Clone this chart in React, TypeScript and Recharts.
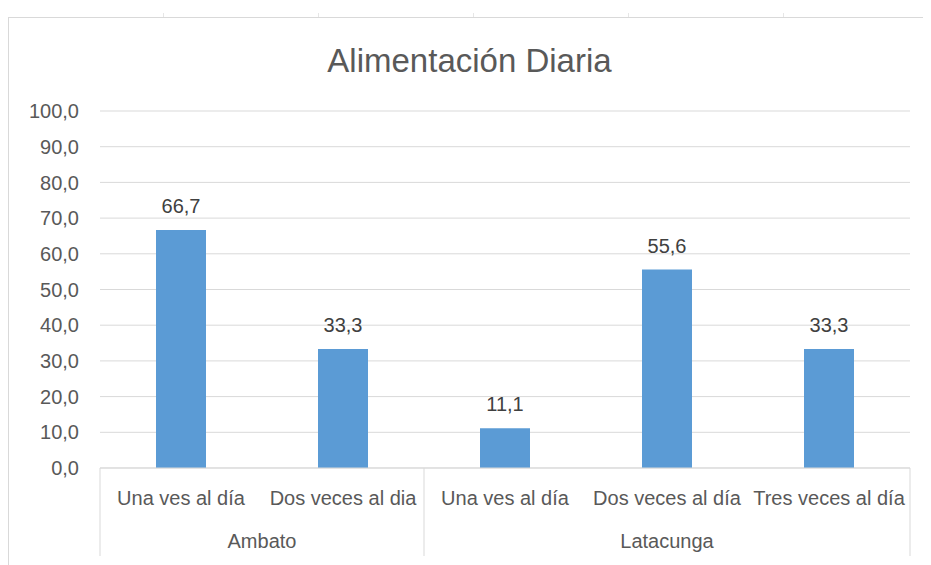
import { BarChart, Bar, XAxis, YAxis, CartesianGrid, LabelList } from "recharts";

const categories = ["Una ves al día", "Dos veces al dia", "Una ves al día", "Dos veces al día", "Tres veces al día"];
const groups = ["Ambato", "Ambato", "Latacunga", "Latacunga", "Latacunga"];
const values = [66.7, 33.3, 11.1, 55.6, 33.3];
const yTicks = [0, 10, 20, 30, 40, 50, 60, 70, 80, 90, 100];

const data = categories.map((label, i) => ({ label, group: groups[i], value: values[i] }));

const W = 923;
const H = 557;
const margin = { top: 103, right: 21, bottom: 0, left: 0 };
const Y_W = 92;
const X_H = 97;
const band = (W - margin.left - margin.right - Y_W) / categories.length;

const grey = "#d9d9d9";
const textCol = "#595959";
const fmt = (v: any) => Number(v).toFixed(1).replace(".", ",");

const CategoryTick = (props: any) => {
    const { x, y, index } = props;
    const g = groups[index];
    const first = index === 0 || groups[index - 1] !== g;
    const last = index === groups.length - 1 || groups[index + 1] !== g;
    const count = groups.filter((v) => v === g).length;
    return (
        <g>
            <text x={x} y={y + 37} textAnchor="middle" fill={textCol} fontSize={20}>
                {categories[index]}
            </text>
            {first && (
                <>
                    <line x1={x - band / 2} x2={x - band / 2} y1={y} y2={y + 88} stroke={grey} />
                    <text x={x + ((count - 1) * band) / 2} y={y + 80} textAnchor="middle" fill={textCol} fontSize={20}>
                        {g}
                    </text>
                </>
            )}
            {last && index === groups.length - 1 && (
                <line x1={x + band / 2} x2={x + band / 2} y1={y} y2={y + 88} stroke={grey} />
            )}
        </g>
    );
};

const colMarks = [163, 318, 473, 628, 783];

export default function App() {
    return (
        <div style={{ position: "relative", width: W, height: H, fontFamily: "'Liberation Sans', Arial, sans-serif" }}>
            {colMarks.map((x) => (
                <div key={x} style={{ position: "absolute", left: x - 8, top: 5, width: 1, height: 4, background: "#e6e6e6" }} />
            ))}
            <div
                style={{
                    position: "absolute",
                    left: 0,
                    top: 9,
                    width: W - 1,
                    height: H - 10,
                    borderLeft: `1px solid ${grey}`,
                    borderTop: `1px solid ${grey}`,
                }}
            />
            <div
                style={{
                    position: "absolute",
                    left: 0,
                    top: 36,
                    width: W,
                    textAlign: "center",
                    fontSize: 33,
                    lineHeight: "33px",
                    color: textCol,
                }}
            >
                Alimentación Diaria
            </div>
            <BarChart width={W} height={H} data={data} margin={margin} style={{ position: "absolute", left: 0, top: 0 }}>
                <CartesianGrid vertical={false} stroke={grey} />
                <XAxis
                    dataKey="label"
                    height={X_H}
                    tickLine={false}
                    tickSize={0}
                    tickMargin={0}
                    axisLine={{ stroke: grey }}
                    interval={0}
                    tick={<CategoryTick />}
                />
                <YAxis
                    width={Y_W}
                    domain={[0, 100]}
                    ticks={yTicks}
                    tickFormatter={fmt}
                    axisLine={false}
                    tickLine={false}
                    tickSize={0}
                    tickMargin={21}
                    tick={{ fill: textCol, fontSize: 20 }}
                />
                <Bar dataKey="value" fill="#5B9BD5" barSize={50} isAnimationActive={false}>
                    <LabelList dataKey="value" position="top" offset={17} formatter={fmt} fill="#404040" fontSize={20} />
                </Bar>
            </BarChart>
        </div>
    );
}
